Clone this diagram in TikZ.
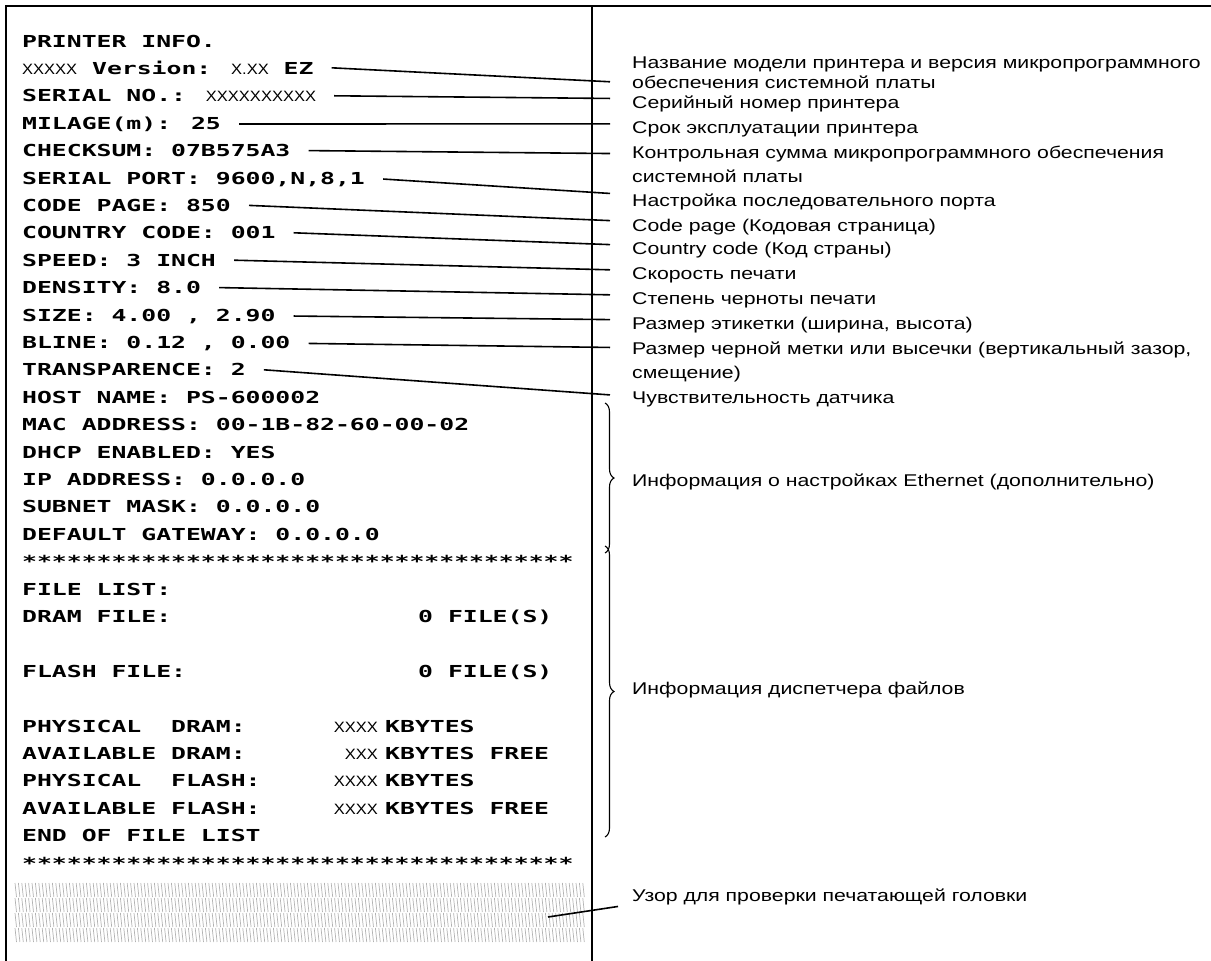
\documentclass[tikz,border=0pt]{standalone}
\usepackage{fontspec}
\setmainfont{Liberation Sans}[FakeStretch=1.25]
\newfontfamily\prtfont{DejaVu Sans Mono}[FakeStretch=1.5]
\newfontfamily\xxfont{Liberation Sans}[FakeStretch=1.1]
\newcommand\xxt[1]{{\xxfont\mdseries\fontsize{15}{18}\selectfont #1}}
\usetikzlibrary{decorations.pathreplacing}
\begin{document}
\begin{tikzpicture}[x=1pt,y=-1pt,
  prt/.style={anchor=base west,inner sep=0pt,font=\prtfont\bfseries\fontsize{16.5}{18}\selectfont},
  lbl/.style={anchor=base west,inner sep=0pt,font=\fontsize{17}{22}\selectfont},
  conn/.style={line width=1.6pt},
  frameline/.style={line width=2.6pt},
  brc/.style={decorate,decoration={brace,amplitude=9pt},line width=1.1pt},
  pat/.style={gray!60,line width=0.7pt}]
\useasboundingbox (0,0) rectangle (1211,961);
% frame
\draw[frameline] (6,961) -- (6,6) -- (1211,6);
\draw[frameline] (592,6) -- (592,961);
% printout lines (baseline = centre + 6)
\node[prt] (l0)  at (22,47)    {PRINTER INFO.};
\node[prt] (l1)  at (22,74.4)  {\xxt{XXXXX} Version: \xxt{X.XX} EZ};
\node[prt] (l2)  at (22,101.8) {SERIAL NO.: \xxt{XXXXXXXXXX}};
\node[prt] (l3)  at (22,129.2) {MILAGE(m): 25};
\node[prt] (l4)  at (22,156.6) {CHECKSUM: 07B575A3};
\node[prt] (l5)  at (22,184)   {SERIAL PORT: 9600,N,8,1};
\node[prt] (l6)  at (22,211.4) {CODE PAGE: 850};
\node[prt] (l7)  at (22,238.8) {COUNTRY CODE: 001};
\node[prt] (l8)  at (22,266.2) {SPEED: 3 INCH};
\node[prt] (l9)  at (22,293.6) {DENSITY: 8.0};
\node[prt] (l10) at (22,321)   {SIZE: 4.00 , 2.90};
\node[prt] (l11) at (22,348.4) {BLINE: 0.12 , 0.00};
\node[prt] (l12) at (22,375.8) {TRANSPARENCE: 2};
\node[prt] (l13) at (22,403.2) {HOST NAME: PS-600002};
\node[prt] (l14) at (22,430.6) {MAC ADDRESS: 00-1B-82-60-00-02};
\node[prt] (l15) at (22,458)   {DHCP ENABLED: YES};
\node[prt] (l16) at (22,485.4) {IP ADDRESS: 0.0.0.0};
\node[prt] (l17) at (22,512.8) {SUBNET MASK: 0.0.0.0};
\node[prt] (l18) at (22,540.2) {DEFAULT GATEWAY: 0.0.0.0};
\node[prt] (l19) at (22,567.6) {*************************************};
\node[prt] (l20) at (22,595)   {FILE LIST:};
\node[prt] (l21) at (22,622.4) {DRAM FILE:};
\node[prt] (l21r) at (418,622.4) {0 FILE(S)};
\node[prt] (l23) at (22,677.2) {FLASH FILE:};
\node[prt] (l23r) at (418,677.2) {0 FILE(S)};
\node[prt] (l25) at (22,732)   {PHYSICAL~~DRAM:};
\node[prt] (l25r) at (385,732) {KBYTES};
\node[prt,anchor=base east] (l25x) at (378,732) {\xxt{XXXX}};
\node[prt] (l26) at (22,759.4) {AVAILABLE DRAM:};
\node[prt] (l26r) at (385,759.4) {KBYTES FREE};
\node[prt,anchor=base east] (l26x) at (378,759.4) {\xxt{XXX}};
\node[prt] (l27) at (22,786.8) {PHYSICAL~~FLASH:};
\node[prt] (l27r) at (385,786.8) {KBYTES};
\node[prt,anchor=base east] (l27x) at (378,786.8) {\xxt{XXXX}};
\node[prt] (l28) at (22,814.2) {AVAILABLE FLASH:};
\node[prt] (l28r) at (385,814.2) {KBYTES FREE};
\node[prt,anchor=base east] (l28x) at (378,814.2) {\xxt{XXXX}};
\node[prt] (l29) at (22,841.6) {END OF FILE LIST};
\node[prt] (l30) at (22,869)   {*************************************};
% print-head test pattern
\foreach \r in {0,1,2,3}{
  \draw[pat] \foreach \x in {15,18.4,...,586}{(\x,{883+15*\r}) -- ++(1.5,14)};
}
\coordinate (pt) at (548,917);
% right-hand labels (baseline = centre + 6)
\node[lbl] (r0)   at (632,68)  {Название модели принтера и версия микропрограммного};
\node[lbl] (r0b)  at (632,88)  {обеспечения системной платы};
\node[lbl] (r1)   at (632,108) {Серийный номер принтера};
\node[lbl] (r2)   at (632,133) {Срок эксплуатации принтера};
\node[lbl] (r3)   at (632,158) {Контрольная сумма микропрограммного обеспечения};
\node[lbl] (r3b)  at (632,182) {системной платы};
\node[lbl] (r4)   at (632,206) {Настройка последовательного порта};
\node[lbl] (r5)   at (632,231) {Code page (Кодовая страница)};
\node[lbl] (r6)   at (632,254) {Country code (Код страны)};
\node[lbl] (r7)   at (632,279) {Скорость печати};
\node[lbl] (r8)   at (632,304) {Степень черноты печати};
\node[lbl] (r9)   at (632,329) {Размер этикетки (ширина, высота)};
\node[lbl] (r10)  at (632,354) {Размер черной метки или высечки (вертикальный зазор,};
\node[lbl] (r10b) at (632,378) {смещение)};
\node[lbl] (r11)  at (632,403) {Чувствительность датчика};
\node[lbl] (r12)  at (632,486) {Информация о настройках Ethernet (дополнительно)};
\node[lbl] (r13)  at (632,694) {Информация диспетчера файлов};
\node[lbl] (r14)  at (632,901) {Узор для проверки печатающей головки};
% connectors
\draw[conn] ([xshift=18pt]l1.east)  -- ([xshift=-22pt]r0b.west);
\draw[conn] ([xshift=18pt]l2.east)  -- ([xshift=-22pt,yshift=5pt]r1.west);
\draw[conn] ([xshift=18pt]l3.east)  -- ([xshift=-22pt,yshift=5pt]r2.west);
\draw[conn] ([xshift=18pt]l4.east)  -- ([xshift=-22pt]r3.west);
\draw[conn] ([xshift=18pt]l5.east)  -- ([xshift=-22pt,yshift=8pt]r4.west);
\draw[conn] ([xshift=18pt]l6.east)  -- ([xshift=-22pt,yshift=6pt]r5.west);
\draw[conn] ([xshift=18pt]l7.east)  -- ([xshift=-22pt,yshift=5pt]r6.west);
\draw[conn] ([xshift=18pt]l8.east)  -- ([xshift=-22pt,yshift=5pt]r7.west);
\draw[conn] ([xshift=18pt]l9.east)  -- ([xshift=-22pt,yshift=5pt]r8.west);
\draw[conn] ([xshift=18pt]l10.east) -- ([xshift=-22pt,yshift=5pt]r9.west);
\draw[conn] ([xshift=18pt]l11.east) -- ([xshift=-22pt,yshift=2pt]r10.west);
\draw[conn] ([xshift=18pt]l12.east) -- ([xshift=-22pt,yshift=4pt]r11.west);
\draw[conn] (pt) -- ([xshift=-14pt,yshift=-10pt]r14.west);
% braces
\draw[brc] (605,403) -- (605,553);
\draw[brc] (605,546) -- (605,837);
\end{tikzpicture}
\end{document}
